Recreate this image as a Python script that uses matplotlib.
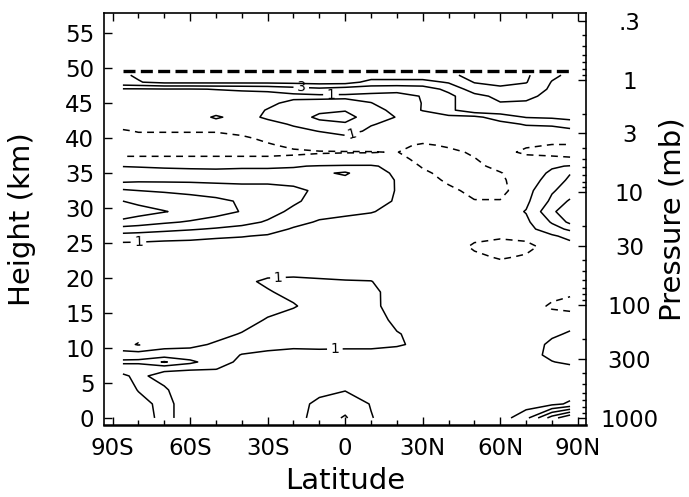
import numpy as np
import matplotlib
matplotlib.use("Agg")
import matplotlib.pyplot as plt

# ---------------- data ----------------
lat = [-86, -80, -70, -60, -50, -40, -30, -20, -10, 0, 10, 20, 30, 40, 50, 60, 70, 80, 87]
height_km = [0, 2, 4, 6, 7, 8, 9, 10.5, 12, 14, 16, 18, 19.5, 21, 23, 24.5, 26, 27, 28,
             29.5, 31, 32.5, 34, 35, 36, 37, 38, 39, 40, 41, 42, 43, 44, 45, 46, 47, 48, 49]

field = [
    [0, 0, 1.6, 0, 0, 0, 0, 0, 2.0, 3.2, 1.1, 0, 0, 0, 0, 0, 2.4, 8.0, 11.0],          # 0
    [0, 0.3, 1.6, 0, 0, 0, 0, 0, 1.6, 2.2, 0.9, 0, 0, 0, 0, 0, 0, 0.5, 1.3],           # 2
    [0, 1.1, 1.2, 0, 0, 0, 0, 0, 0.3, 0.9, 0.2, 0, 0, 0, 0, 0, 0, 0, 0],               # 4
    [0.8, 1.3, 0.5, 0, 0, 0, 0, 0, 0, 0, 0, 0, 0, 0, 0, 0, 0, 0, 0],                   # 6
    [1.5, 1.5, 1.3, 1.2, 1.05, 0, 0, 0, 0, 0, 0, 0, 0, 0, 0, 0, 0, 0, 0.2],            # 7
    [3.5, 3.5, 5.2, 3.5, 1.8, 0.6, 0, 0, 0, 0, 0, 0, 0, 0, 0, 0, 0, 0.9, 1.5],         # 8
    [1.8, 2.0, 2.0, 1.8, 1.6, 0.95, 0.6, 0.4, 0.4, 0.3, 0.3, 0.2, 0, 0, 0, 0, 0, 1.6, 1.8],  # 9
    [-0.2, -1.2, 0.3, 0.6, 1.2, 1.6, 1.6, 1.4, 1.5, 1.5, 1.5, 1.2, 0.6, 0, 0, 0, 0, 1.4, 1.8],  # 10.5
    [0, 0, 0, 0, 0.5, 1.1, 1.8, 1.8, 1.8, 1.8, 1.8, 1.1, 0.5, 0, 0, 0, 0, 0.7, 1.2],   # 12
    [0, 0, 0, 0, 0, 0.3, 1.15, 1.8, 1.8, 1.8, 1.8, 0.6, 0, 0, 0, 0, 0, 0, 0.3],        # 14
    [0, 0, 0, 0, 0, 0, 0.4, 0.85, 1.8, 1.8, 1.3, 0.5, 0, 0, 0, 0, 0, -1.3, -1.8],      # 16
    [0, 0, 0, 0, 0, 0, 0.85, 1.5, 1.8, 1.8, 1.4, 0.3, 0, 0, 0, 0, 0, -0.3, -0.6],      # 18
    [0, 0, 0, 0, 0, 0.6, 1.3, 1.3, 1.2, 1.1, 1.05, 0.2, 0, 0, 0, 0, 0, 0, 0],          # 19.5
    [0, 0, 0, 0, 0, 0.2, 0.4, 0.6, 0.5, 0.4, 0.3, 0, 0, 0, 0, 0, 0, 0, 0],             # 21
    [0, 0, 0, 0, 0, 0, 0, 0, 0, 0, 0, 0, 0, 0, -0.6, -1.2, -0.8, 0, 0],                # 23
    [0.2, 0.2, 0.1, 0.1, 0, 0, 0, 0, 0, 0, 0, 0, 0, 0, -1.3, -1.8, -1.5, -0.3, 0.2],   # 24.5
    [2.2, 2.1, 1.8, 1.6, 1.3, 1.1, 0.8, 0.3, 0, 0, 0, 0, 0, 0, -0.5, -0.7, -0.5, 0.7, 1.6],  # 26
    [4.2, 4.0, 3.6, 3.2, 2.8, 2.4, 1.8, 0.8, 0.3, 0, 0, 0, 0, 0, 0, 0, 0.3, 2.2, 3.4],  # 27
    [6.4, 6.0, 5.3, 4.8, 4.2, 3.6, 2.8, 1.6, 0.8, 0.5, 0.3, 0, 0, 0, 0, 0, 0.6, 3.2, 5.5],  # 28
    [8.5, 7.8, 7.1, 6.4, 5.7, 4.9, 3.7, 2.6, 1.7, 1.4, 1.1, 0.5, 0, 0, 0, 0, 1.1, 4.5, 6.8],  # 29.5
    [7.0, 6.5, 6.0, 5.8, 5.4, 4.8, 4.1, 3.3, 2.3, 2.0, 1.8, 0.8, 0, 0, -0.9, -0.9, 0.6, 3.4, 5.3],  # 31
    [5.3, 5.0, 4.8, 4.5, 4.2, 4.0, 4.0, 3.5, 2.6, 2.3, 2.0, 0.9, 0, -0.5, -1.6, -1.6, 0.3, 2.8, 3.8],  # 32.5
    [2.4, 2.6, 2.6, 2.6, 2.5, 2.4, 2.4, 2.3, 2.2, 2.4, 1.9, 0.9, 0, -1.4, -1.8, -1.3, 0, 1.8, 3.4],  # 34
    [1.7, 1.6, 1.5, 1.5, 1.4, 1.4, 1.4, 1.4, 2.6, 3.3, 1.5, 0.8, -0.6, -1.7, -1.7, -1.1, 0, 1.3, 2.9],  # 35
    [0.95, 0.9, 0.8, 0.7, 0.7, 0.8, 0.8, 0.9, 1.1, 1.2, 1.2, 0.5, -1.2, -1.8, -1.4, -0.5, 0, 0.8, 1.1],  # 36
    [-0.6, -0.6, -0.6, -0.6, -0.6, -0.6, -0.6, -0.6, -0.6, -0.6, -0.5, -0.4, -1.6, -1.6, -1.1, 0, 0, -0.6, -0.8],  # 37
    [-1.6, -1.6, -1.6, -1.6, -1.6, -1.6, -1.6, -1.3, -1.1, -1.05, -1.05, -0.95, -1.8, -1.5, -0.7, 0, -1.6, -1.5, -1.5],  # 38
    [-1.6, -1.6, -1.6, -1.6, -1.6, -1.4, -1.2, -0.6, -0.4, -0.5, -0.4, -0.5, -1.3, -0.7, -0.2, 0, -0.6, -1.1, -1.1],  # 39
    [-1.5, -1.5, -1.5, -1.5, -1.5, -1.3, -0.6, 0, 0.2, 0.6, 0.3, 0, 0, 0, 0, 0, 0, 0, 0],  # 40
    [-1.2, -0.9, -0.9, -0.9, -0.9, -0.5, -0.2, 0.5, 1.05, 1.6, 0.7, 0.2, 0, 0, 0, 0, 0, 0, 0.4],  # 41
    [-0.3, 0, 0, 0, 0.2, 0, 0.4, 1.2, 2.2, 2.8, 1.1, 0.6, 0, 0.2, 0.2, 0.3, 1.2, 1.4, 2.0],  # 42
    [0, 0, 0, 0, 1.25, 0.3, 1.3, 1.8, 3.5, 3.6, 2.2, 0.9, 0.5, 0.5, 0.5, 2.0, 3.1, 3.3, 3.6],  # 43
    [0, 0, 0, 0, 0.2, 0.2, 1.1, 1.8, 2.5, 2.9, 1.8, 0.4, 1.05, 2.5, 4.4, 4.2, 4.2, 4.0, 3.9],  # 44
    [0, 0, 0, 0, 0, 0, 0.6, 1.5, 1.5, 1.5, 1.05, 0.2, 1.05, 2.5, 4.4, 4.9, 4.8, 4.3, 4.0],  # 45
    [0, 0, 0.2, 0.2, 0.3, 0.4, 0.3, 0.5, 0.6, 0.7, 0.5, 0.4, 1.1, 2.5, 4.4, 5.5, 5.4, 4.5, 4.1],  # 46
    [0.8, 0.8, 0.9, 0.9, 1.05, 1.2, 1.4, 2.0, 2.5, 2.0, 1.8, 1.6, 2.0, 3.5, 6.0, 6.6, 6.2, 4.7, 4.2],  # 47
    [4.6, 4.9, 5.5, 5.5, 5.5, 5.5, 5.5, 5.6, 5.8, 5.8, 4.4, 4.4, 4.3, 5.2, 7.1, 7.5, 7.1, 4.9, 4.4],  # 48
    [4.8, 5.2, 6.5, 6.5, 6.5, 6.5, 6.5, 6.5, 6.5, 6.3, 6.0, 6.0, 6.2, 6.6, 7.6, 7.8, 7.3, 5.4, 4.6],  # 49
]

neg_levels = [-1]
pos_levels = [1, 3, 5, 7, 9]
top_boundary_km = 49.6

xtick_vals = [-90, -60, -30, 0, 30, 60, 90]
xtick_labels = ["90S", "60S", "30S", "0", "30N", "60N", "90N"]
ytick_vals = [0, 5, 10, 15, 20, 25, 30, 35, 40, 45, 50, 55]
pressure_major = [0.3, 1, 3, 10, 30, 100, 300, 1000]
pressure_labels = [".3", "1", "3", "10", "30", "100", "300", "1000"]
pressure_minor = [0.4, 0.5, 0.6, 0.7, 0.8, 0.9, 2, 4, 5, 6, 7, 8, 9,
                  20, 40, 50, 60, 70, 80, 90, 200, 400, 500, 600, 700, 800, 900]
scale_height_km = 7.0
label_points = [(-80, 25.2), (-26, 19.95), (-4, 9.95), (-17, 47.25), (-5.5, 46.2), (2.6, 40.75)]

# ---------------- figure ----------------
fig = plt.figure(figsize=(6.89, 4.97), dpi=100)
ax = fig.add_axes([0.151, 0.145, 0.700, 0.829])

X, Y = np.meshgrid(lat, height_km)
Z = np.array(field)

ax.contour(X, Y, Z, levels=neg_levels, colors="black", linewidths=1.1,
           linestyles=[(0, (4.5, 3.5))])
cs = ax.contour(X, Y, Z, levels=pos_levels, colors="black", linewidths=1.1,
                linestyles="solid")
cs.clabel(fmt="%d", manual=label_points, fontsize=10, inline=True, inline_spacing=4)

ax.plot([lat[0], lat[-1]], [top_boundary_km, top_boundary_km], color="black",
        lw=2.4, linestyle=(0, (3.6, 1.6)))

ax.set_xlim(-93.3, 93.3)
ax.set_ylim(-1.0, 57.9)
ax.set_xticks(xtick_vals)
ax.set_xticklabels(xtick_labels)
ax.set_xticks(np.arange(-90, 91, 10), minor=True)
ax.set_yticks(ytick_vals)
ax.tick_params(axis="both", which="major", direction="in", labelsize=16.5,
               length=6, width=1.0, pad=7)
ax.tick_params(axis="x", which="major", pad=9)
ax.tick_params(axis="x", which="minor", direction="in", length=3.5, width=1.0)
ax.tick_params(axis="x", which="both", top=True)
ax.tick_params(axis="y", which="both", right=False)

ax.set_xlabel("Latitude", fontsize=21, va="center")
ax.set_ylabel("Height (km)", fontsize=21, va="center")
ax.yaxis.set_label_coords(-0.17, 0.5)
ax.xaxis.set_label_coords(0.5, -0.135)

for sp in ax.spines.values():
    sp.set_linewidth(1.2)
ax.spines["bottom"].set_linewidth(1.8)

ax2 = ax.twinx()
ax2.set_ylim(ax.get_ylim())
p_major = np.array(pressure_major, dtype=float)
p_minor = np.array(pressure_minor, dtype=float)
ax2.set_yticks(scale_height_km * np.log(1000.0 / p_major))
ax2.set_yticklabels(pressure_labels)
ax2.set_yticks(scale_height_km * np.log(1000.0 / p_minor), minor=True)
ax2.tick_params(axis="y", which="major", direction="in", labelsize=16.5,
                length=6, width=1.0, pad=31)
ax2.tick_params(axis="y", which="minor", direction="in", length=3, width=1.0)
for t in ax2.get_yticklabels():
    t.set_horizontalalignment("center")
ax2.set_ylabel("Pressure (mb)", fontsize=21, rotation=90, va="center")
ax2.yaxis.set_label_coords(1.178, 0.5)
for sp in ax2.spines.values():
    sp.set_visible(False)

fig.savefig("out.png", dpi=100)
